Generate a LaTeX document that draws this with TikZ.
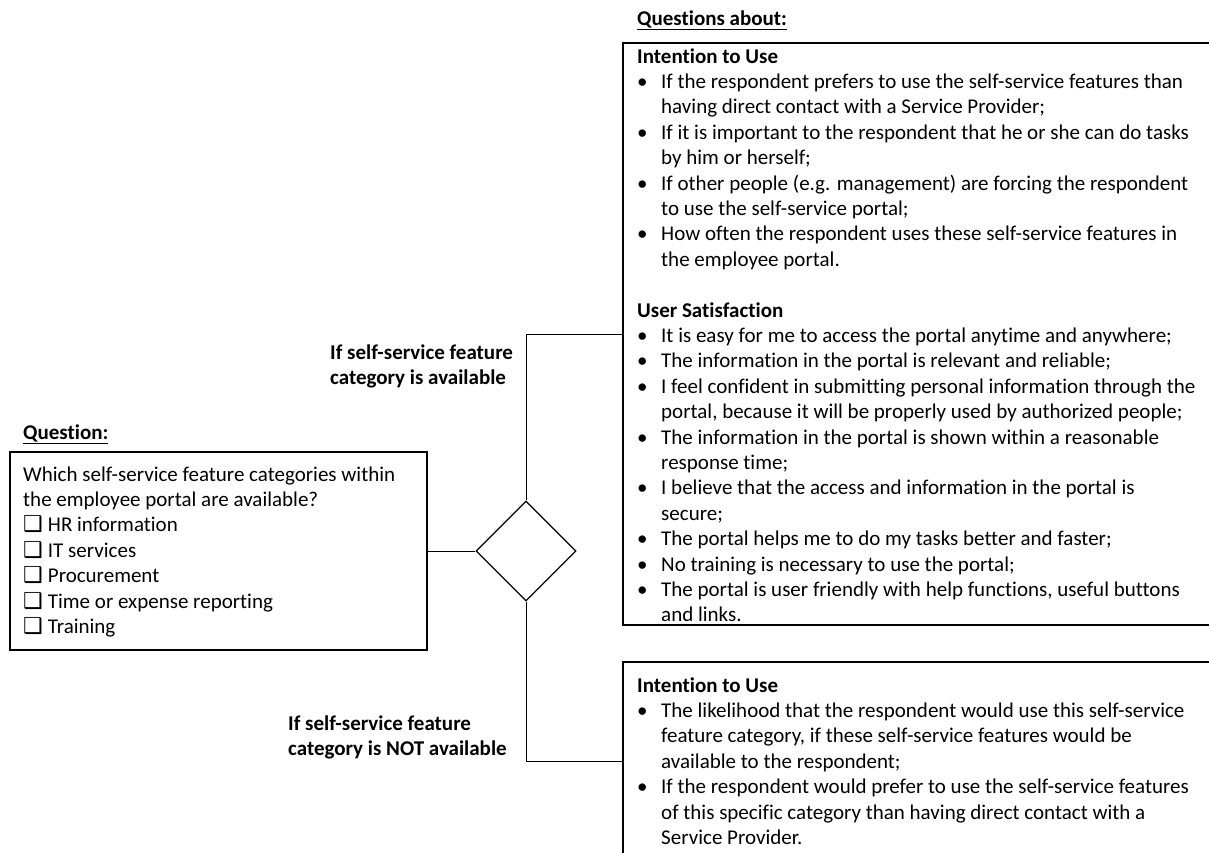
\documentclass[tikz,border=0pt]{standalone}
\usepackage{fontspec}
\setmainfont{Carlito}[Ligatures=NoCommon]
\newfontfamily\dejavufam{DejaVu Sans}
\usetikzlibrary{shapes.geometric}
\newcommand{\bodyfont}{\fontsize{21}{25.4}\selectfont}
\newcommand{\bitem}[1]{\textbullet & #1\\}
\newcommand{\citem}[1]{& #1\\}
\newcommand{\hitem}[1]{\multicolumn{2}{@{}l@{}}{\bfseries #1}\\}
\newcommand{\chkbox}{\hspace*{0pt}{\dejavufam\fontsize{22}{22}\selectfont ❑}\hspace{5pt}}
\begin{document}
\begin{tikzpicture}[x=1pt,y=-1pt,
  box/.style={draw, rectangle, line width=1.5pt, inner sep=0pt},
  conn/.style={draw, line width=0.9pt},
  txt/.style={anchor=base west, inner sep=0pt, font=\bodyfont},
  lbl/.style={anchor=base west, inner sep=0pt, font=\bodyfont\bfseries}]
\useasboundingbox (0,0) rectangle (1209,852);
\fill[white] (0,0) rectangle (1209,852);
\node[box, minimum width=417pt, minimum height=198pt] (qbox) at (218.5,551) {};
\node[box, minimum width=592pt, minimum height=582pt] (ub) at (919,334) {};
\node[box, minimum width=592pt, minimum height=198pt] (lb) at (919,761) {};
\node[diamond, draw, line width=1.3pt, minimum width=100pt, minimum height=100pt, inner sep=0pt] (dia) at (526,551) {};

\draw[conn] (qbox.east) -- (dia.west);
\draw[conn] (dia.north) |- (ub.west);
\draw[conn] (dia.south) |- (lb.west);

\node[txt] (qlabel) at (23,439) {\underline{\textbf{Question:}}};
\node[txt] (qtext) at (23,481) {\begin{tabular}[t]{@{}l@{}}
Which self-service feature categories within\\
the employee portal are available?\\
\chkbox HR information\\
\chkbox IT services\\
\chkbox Procurement\\
\chkbox Time or expense reporting\\
\chkbox Training
\end{tabular}};

\node[txt] (ulabel) at (637,25) {\underline{\textbf{Questions about:}}};
\node[txt] (utext) at (637,63) {\begin{tabular}[t]{@{}p{24pt}@{}l@{}}
\hitem{Intention to Use}
\bitem{If the respondent prefers to use the self-service features than}
\citem{having direct contact with a Service Provider;}
\bitem{If it is important to the respondent that he or she can do tasks}
\citem{by him or herself;}
\bitem{If other people (e.g. management) are forcing the respondent}
\citem{to use the self-service portal;}
\bitem{How often the respondent uses these self-service features in}
\citem{the employee portal.}
\citem{}
\hitem{User Satisfaction}
\bitem{It is easy for me to access the portal anytime and anywhere;}
\bitem{The information in the portal is relevant and reliable;}
\bitem{I feel confident in submitting personal information through the}
\citem{portal, because it will be properly used by authorized people;}
\bitem{The information in the portal is shown within a reasonable}
\citem{response time;}
\bitem{I believe that the access and information in the portal is}
\citem{secure;}
\bitem{The portal helps me to do my tasks better and faster;}
\bitem{No training is necessary to use the portal;}
\bitem{The portal is user friendly with help functions, useful buttons}
\citem{and links.}
\end{tabular}};

\node[txt] (ltext) at (637,692) {\begin{tabular}[t]{@{}p{24pt}@{}l@{}}
\hitem{Intention to Use}
\bitem{The likelihood that the respondent would use this self-service}
\citem{feature category, if these self-service features would be}
\citem{available to the respondent;}
\bitem{If the respondent would prefer to use the self-service features}
\citem{of this specific category than having direct contact with a}
\citem{Service Provider.}
\end{tabular}};

\node[lbl] (lyes) at (330,359) {\begin{tabular}[t]{@{}l@{}}
If self-service feature\\
category is available
\end{tabular}};
\node[lbl] (lno) at (288,730) {\begin{tabular}[t]{@{}l@{}}
If self-service feature\\
category is NOT available
\end{tabular}};
\end{tikzpicture}
\end{document}
